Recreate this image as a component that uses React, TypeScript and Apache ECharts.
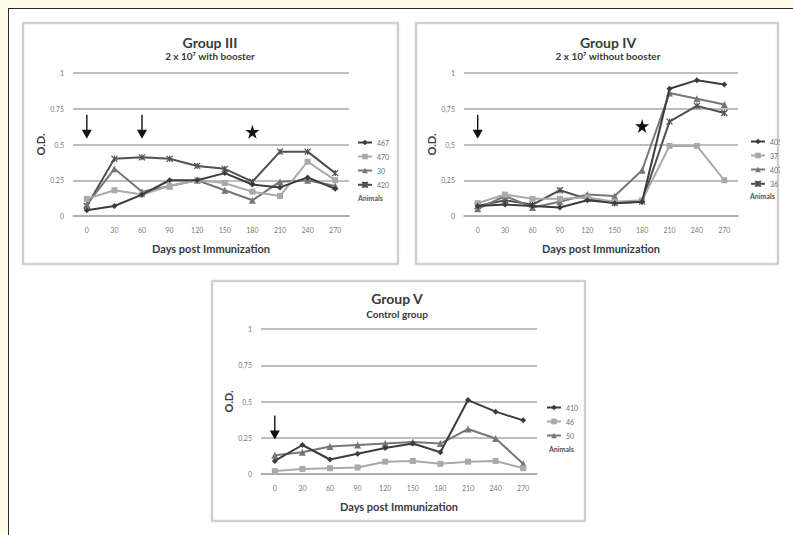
import React, { useEffect, useRef } from 'react';
import * as echarts from 'echarts';

const days = ['0', '30', '60', '90', '120', '150', '180', '210', '240', '270'];
const yTicksDot = ['0', '0.25', '0.5', '0.75', '1'];
const yTicksComma = ['0', '0,25', '0,5', '0,75', '1'];

const g3Animals = ['467', '470', '30', '420'];
const g3_467 = [0.04, 0.07, 0.15, 0.25, 0.25, 0.30, 0.22, 0.20, 0.27, 0.19];
const g3_470 = [0.12, 0.18, 0.15, 0.21, 0.25, 0.23, 0.17, 0.14, 0.38, 0.25];
const g3_30 = [0.08, 0.33, 0.17, 0.21, 0.25, 0.18, 0.11, 0.24, 0.25, 0.21];
const g3_420 = [0.07, 0.40, 0.41, 0.40, 0.35, 0.33, 0.24, 0.45, 0.45, 0.30];

const g4Animals = ['401', '37', '407', '36'];
const g4_401 = [0.07, 0.08, 0.07, 0.06, 0.11, 0.09, 0.10, 0.89, 0.95, 0.92];
const g4_37 = [0.09, 0.15, 0.12, 0.12, 0.13, 0.10, 0.11, 0.49, 0.49, 0.25];
const g4_407 = [0.05, 0.14, 0.06, 0.10, 0.15, 0.14, 0.32, 0.86, 0.82, 0.78];
const g4_36 = [0.07, 0.11, 0.08, 0.18, 0.12, 0.09, 0.10, 0.66, 0.77, 0.72];

const g5Animals = ['410', '46', '50'];
const g5_410 = [0.09, 0.20, 0.10, 0.14, 0.18, 0.21, 0.15, 0.51, 0.43, 0.37];
const g5_46 = [0.02, 0.035, 0.04, 0.045, 0.085, 0.09, 0.07, 0.085, 0.09, 0.04];
const g5_50 = [0.13, 0.15, 0.19, 0.20, 0.21, 0.22, 0.21, 0.31, 0.245, 0.07];

// annotations: [day, O.D. at the symbol centre]
const g3Arrows: [string, number][] = [['0', 0.625], ['60', 0.625]];
const g3Stars: [string, number][] = [['180', 0.59]];
const g4Arrows: [string, number][] = [['0', 0.625]];
const g4Stars: [string, number][] = [['180', 0.63]];
const g5Arrows: [string, number][] = [['0', 0.32]];

const ARROW = 'path://M4.3,0L5.7,0L5.7,15L10,15L5,24L0,15L4.3,15Z';
const STAR = 'path://M50,0L61,35L98,35L68,57L79,91L50,70L21,91L32,57L2,35L39,35Z';
const ASTER = 'path://M0,0L10,10M10,0L0,10M5,0L5,10';

const FONT = 'Lato, "Open Sans", sans-serif';

const styles = [
  { symbol: 'diamond', size: 6, color: '#3c3c3c' },
  { symbol: 'rect', size: 6, color: '#a9a9a9' },
  { symbol: 'triangle', size: 7, color: '#767676' },
  { symbol: ASTER, size: 6, color: '#505050' },
];

function mkSeries(names: string[], data: number[][], idx: number, arrows: [string, number][], stars: [string, number][]) {
  return names.map((n, i) => {
    const st = styles[i];
    const s: any = {
      type: 'line',
      name: n,
      xAxisIndex: idx,
      yAxisIndex: idx,
      data: data[i],
      symbol: st.symbol,
      symbolSize: st.size,
      showAllSymbol: true,
      lineStyle: { color: st.color, width: 2 },
      itemStyle: { color: st.color, borderColor: st.color, borderWidth: st.symbol === ASTER ? 1.2 : 0 },
      z: 10 - i,
    };
    if (i === 0) {
      s.markPoint = {
        label: { show: false },
        itemStyle: { color: '#111', borderWidth: 0 },
        data: [
          ...arrows.map(([d, v]) => ({ coord: [days.indexOf(d), v], symbol: ARROW, symbolSize: [10, 24] })),
          ...stars.map(([d, v]) => ({ coord: [days.indexOf(d), v], symbol: STAR, symbolSize: 14 })),
        ],
      };
    }
    return s;
  });
}

function mkXAxis(idx: number) {
  return {
    type: 'category',
    gridIndex: idx,
    data: days,
    boundaryGap: true,
    axisLine: { show: true, lineStyle: { color: '#a8a8a8', width: 1.5 } },
    axisTick: { show: false },
    axisLabel: { fontSize: 7, color: '#7a7a7a', margin: 10, fontFamily: FONT },
    name: 'Days post Immunization',
    nameLocation: 'middle',
    nameGap: 27,
    nameTextStyle: { fontSize: 11, fontWeight: 'bold', color: '#3a3a3a', fontFamily: FONT },
  };
}

function mkYAxis(idx: number, labels: string[]) {
  return {
    type: 'value',
    gridIndex: idx,
    min: 0,
    max: 1,
    interval: 0.25,
    axisLine: { show: false },
    axisTick: { show: false },
    splitLine: { show: true, lineStyle: { color: '#a8a8a8', width: 1.5 } },
    axisLabel: {
      fontSize: 7,
      color: '#7a7a7a',
      margin: 9,
      fontFamily: FONT,
      formatter: (v: number) => labels[Math.round(v / 0.25)],
    },
    name: 'O.D.',
    nameLocation: 'middle',
    nameRotate: 90,
    nameGap: 24,
    nameTextStyle: { fontSize: 11, fontWeight: 'bold', color: '#3a3a3a', fontFamily: FONT },
  };
}

function mkLegend(names: string[], left: number, top: number) {
  return {
    data: names,
    orient: 'vertical',
    left,
    top,
    itemWidth: 14,
    itemHeight: 7,
    itemGap: 7,
    padding: 0,
    textStyle: { fontSize: 7, color: '#6e6e6e', fontFamily: FONT },
    selectedMode: false,
  };
}

function txt(text: string, x: number, y: number, size: number, align = 'center', color = '#3a3a3a') {
  return {
    type: 'text',
    x,
    y,
    silent: true,
    style: { text, fill: color, font: `bold ${size}px ${FONT}`, textAlign: align, textVerticalAlign: 'middle' },
  };
}

function panel(x: number, y: number, w: number, h: number) {
  return {
    type: 'rect',
    shape: { x, y, width: w, height: h },
    silent: true,
    style: { fill: 'none', stroke: '#c6c6c6', lineWidth: 1.6, shadowBlur: 2, shadowColor: 'rgba(0,0,0,0.15)' },
  };
}

export default function App() {
  const ref = useRef<HTMLDivElement>(null);
  useEffect(() => {
    if (!ref.current) return;
    const chart = echarts.init(ref.current, undefined, { renderer: 'svg' });
    chart.setOption({
      animation: false,
      backgroundColor: 'transparent',
      grid: [
        { left: 73, top: 73, width: 276, height: 143 },
        { left: 464, top: 73, width: 274, height: 143 },
        { left: 261, top: 329, width: 276, height: 145 },
      ],
      xAxis: [mkXAxis(0), mkXAxis(1), mkXAxis(2)],
      yAxis: [mkYAxis(0, yTicksDot), mkYAxis(1, yTicksComma), mkYAxis(2, yTicksComma)],
      legend: [
        mkLegend(g3Animals, 357, 139),
        mkLegend(g4Animals, 750, 138),
        mkLegend(g5Animals, 546, 404),
      ],
      series: [
        ...mkSeries(g3Animals, [g3_467, g3_470, g3_30, g3_420], 0, g3Arrows, g3Stars),
        ...mkSeries(g4Animals, [g4_401, g4_37, g4_407, g4_36], 1, g4Arrows, g4Stars),
        ...mkSeries(g5Animals, [g5_410, g5_46, g5_50], 2, g5Arrows, []),
      ],
      graphic: [
        panel(23, 23, 375, 241),
        panel(416, 23, 362, 241),
        panel(212, 281, 373, 240),
        { type: 'rect', z: 100, silent: true, shape: { x: 780, y: 120, width: 13, height: 100 }, style: { fill: '#ffffff' } },
        txt('Group III', 210, 42, 14),
        txt('2 x 10\u2077 with booster', 210, 56, 10),
        txt('Group IV', 608, 42, 14),
        txt('2 x 10\u2077 without booster', 608, 56, 10),
        txt('Group V', 397, 298, 14),
        txt('Control group', 397, 314, 10),
        txt('Animals', 358, 198, 7, 'left', '#505050'),
        txt('Animals', 750, 196, 7, 'left', '#505050'),
        txt('Animals', 549, 449, 7, 'left', '#505050'),
      ],
    });
    return () => chart.dispose();
  }, []);
  return (
    <div style={{ position: 'fixed', left: 0, top: 0, width: 793, height: 535, background: '#fffbe7', overflow: 'hidden' }}>
      <div style={{ position: 'absolute', left: 8, top: 8, right: -10, bottom: -10, background: '#ffffff', borderLeft: '1.5px solid #2a2a2a', borderTop: '1.5px solid #2a2a2a' }} />
      <div ref={ref} style={{ position: 'absolute', left: 0, top: 0, width: 793, height: 535 }} />
    </div>
  );
}
